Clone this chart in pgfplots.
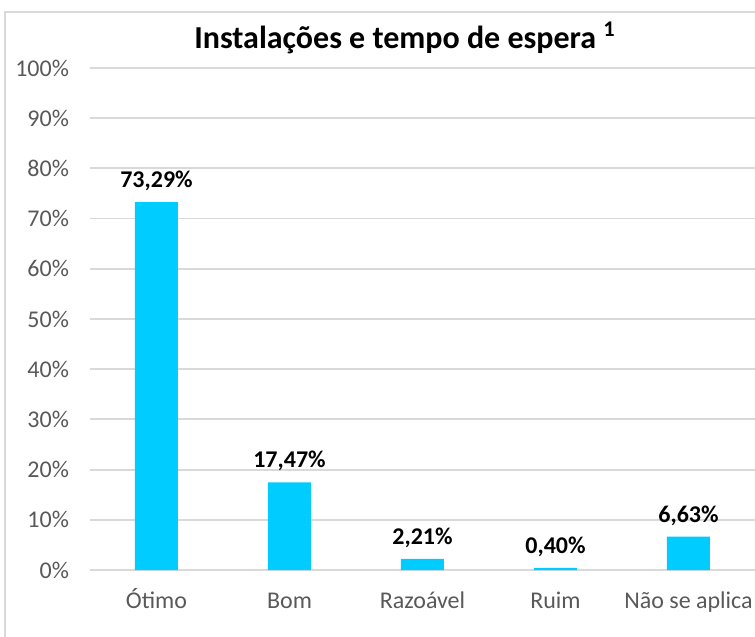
\documentclass[border=0pt]{standalone}
\usepackage{fontspec}
\setmainfont{Carlito}
\usepackage{pgfplots}
\pgfplotsset{compat=1.18}

\definecolor{barblue}{HTML}{00CCFF}
\definecolor{gridgray}{HTML}{D9D9D9}
\definecolor{ticktext}{HTML}{595959}

\begin{document}
\begin{tikzpicture}
% fixed frame of the picture, in px*0.5pt
\useasboundingbox (-45pt,-33.5pt) rectangle (332.5pt,285pt);
\begin{axis}[
    scale only axis,
    width=332.5pt, height=251pt,
    xmin=-0.5, xmax=4.5,
    ymin=0, ymax=100,
    ytick={0,10,...,100},
    yticklabel={\pgfmathprintnumber{\tick}\%},
    xtick={0,1,2,3,4},
    xticklabels={Ótimo, Bom, Razoável, Ruim, Não se aplica},
    axis line style={draw=none},
    major tick length=0pt,
    ymajorgrids,
    grid style={gridgray, line width=0.9pt},
    tick label style={font=\fontsize{12}{14}\selectfont, text=ticktext},
    /pgf/number format/assume math mode=true,
    yticklabel style={xshift=-7pt},
    xticklabel style={text height=2.2ex, text depth=0.4ex, yshift=-5pt},
    ybar, bar width=21.5pt,
    nodes near coords={\pgfmathprintnumber[fixed,fixed zerofill,precision=2,use comma]{\pgfplotspointmeta}\%},
    every node near coord/.append style={font=\bfseries\fontsize{12}{14}\selectfont, text=black, yshift=2pt},
]
\addplot[fill=barblue, draw=none] coordinates {
    (0,73.29) (1,17.47) (2,2.21) (3,0.40) (4,6.63)
};
\end{axis}
\node[font=\bfseries\fontsize{16}{19}\selectfont] at (157.5pt,266pt) {Instalações e tempo de espera \textsuperscript{1}};
\draw[gridgray, line width=1pt] (-42.5pt,-40pt) -- (-42.5pt,279pt) -- (340pt,279pt);
\end{tikzpicture}
\end{document}
